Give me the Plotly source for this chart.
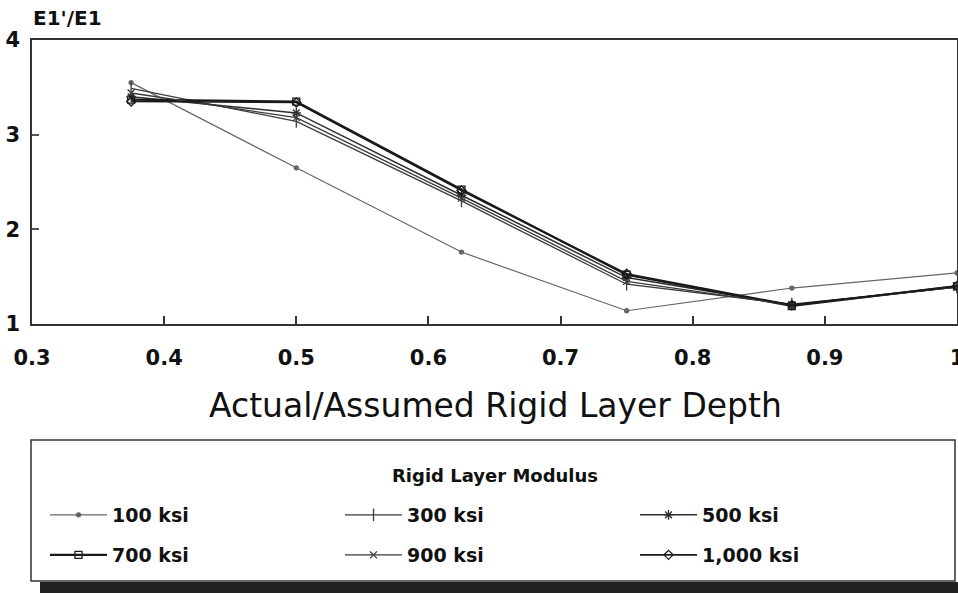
import plotly.graph_objects as go

# ---- data ----
depth_ratio = [0.375, 0.5, 0.625, 0.75, 0.875, 1.0]
series_names = ["100 ksi", "300 ksi", "500 ksi", "700 ksi", "900 ksi", "1,000 ksi"]
e_100 = [3.55, 2.65, 1.76, 1.14, 1.38, 1.54]
e_300 = [3.49, 3.14, 2.30, 1.42, 1.21, 1.39]
e_500 = [3.40, 3.23, 2.36, 1.49, 1.20, 1.39]
e_700 = [3.37, 3.35, 2.42, 1.52, 1.19, 1.40]
e_900 = [3.44, 3.18, 2.33, 1.45, 1.20, 1.39]
e_1000 = [3.35, 3.34, 2.41, 1.53, 1.20, 1.40]
x_ticks = [0.3, 0.4, 0.5, 0.6, 0.7, 0.8, 0.9, 1.0]
x_tick_labels = ["0.3", "0.4", "0.5", "0.6", "0.7", "0.8", "0.9", "1"]
y_ticks = [1, 2, 3, 4]

W, H = 958, 593
ML, MR, MT, MB = 32, 1, 40, 0
PW, PH = W - ML - MR, H - MT - MB


def px_x(p):
    return (p - ML) / PW


def px_y(p):
    return (H - MB - p) / PH


FONT = "DejaVu Sans"
styles = [
    dict(color="#666666", width=1.2, symbol="circle", size=4, legend="legend"),
    dict(color="#3a3a3a", width=1.3, symbol="line-ns-open", size=9, legend="legend"),
    dict(color="#2e2e2e", width=1.5, symbol="asterisk-open", size=8, legend="legend"),
    dict(color="#1a1a1a", width=2.2, symbol="square-open", size=7, legend="legend2"),
    dict(color="#3a3a3a", width=1.3, symbol="x-thin-open", size=7, legend="legend2"),
    dict(color="#1a1a1a", width=1.6, symbol="diamond-open", size=7, legend="legend2"),
]
all_series = [e_100, e_300, e_500, e_700, e_900, e_1000]

fig = go.Figure()
for name, vals, st in zip(series_names, all_series, styles):
    fig.add_trace(go.Scatter(
        x=depth_ratio, y=vals, name=name, mode="lines+markers",
        line=dict(color=st["color"], width=st["width"]),
        marker=dict(symbol=st["symbol"], size=st["size"], color=st["color"],
                    line=dict(color=st["color"], width=1.3)),
        legend=st["legend"], cliponaxis=False,
    ))

legend_common = dict(orientation="h", xanchor="left", yanchor="middle",
                     entrywidth=223, entrywidthmode="pixels", itemwidth=57,
                     bgcolor="rgba(0,0,0,0)", borderwidth=0,
                     font=dict(family=FONT, size=19, color="#111", weight="bold"))

fig.update_layout(
    width=W, height=H,
    margin=dict(l=ML, r=MR, t=MT, b=MB, autoexpand=False),
    paper_bgcolor="white", plot_bgcolor="white",
    font=dict(family=FONT, color="#111111"),
    xaxis=dict(range=[0.3, 1.0], tickvals=x_ticks, ticktext=x_tick_labels,
               ticks="inside", ticklen=8, tickwidth=1.5, tickcolor="#333",
               showline=True, linecolor="#333", linewidth=1.5, mirror=True,
               showgrid=False, zeroline=False, ticklabelstandoff=14,
               ticklabeloverflow="allow",
               tickfont=dict(family=FONT, size=21, color="#111", weight="bold")),
    yaxis=dict(range=[1, 4], tickvals=y_ticks, domain=[px_y(324), 1],
               ticks="inside", ticklen=7, tickwidth=1.5, tickcolor="#555",
               showline=True, linecolor="#333", linewidth=1.5, mirror=True,
               showgrid=False, zeroline=False, ticklabelstandoff=6,
               ticklabeloverflow="allow",
               tickfont=dict(family=FONT, size=21, color="#111", weight="bold")),
    legend=dict(x=px_x(45), y=px_y(515), **legend_common),
    legend2=dict(x=px_x(45), y=px_y(555), **legend_common),
    showlegend=True,
)

# legend frame with shadow
fig.add_shape(type="rect", xref="paper", yref="paper",
              x0=px_x(40), x1=px_x(962), y0=px_y(596), y1=px_y(582),
              fillcolor="#222222", line=dict(width=0), layer="below")
fig.add_shape(type="rect", xref="paper", yref="paper",
              x0=px_x(31), x1=px_x(955), y0=px_y(581), y1=px_y(440),
              fillcolor="white", line=dict(color="#333", width=1.5), layer="below")

fig.add_annotation(text="Rigid Layer Modulus", xref="paper", yref="paper",
                   x=px_x(495), y=px_y(475), showarrow=False,
                   xanchor="center", yanchor="middle",
                   font=dict(family=FONT, size=18, color="#111", weight="bold"))
fig.add_annotation(text="Actual/Assumed Rigid Layer Depth", xref="paper", yref="paper",
                   x=px_x(495), y=px_y(405), showarrow=False,
                   xanchor="center", yanchor="middle",
                   font=dict(family=FONT, size=33, color="#111"))
fig.add_annotation(text="E1'/E1", xref="paper", yref="paper",
                   x=px_x(31), y=px_y(18), showarrow=False,
                   xanchor="left", yanchor="middle",
                   font=dict(family=FONT, size=20, color="#111", weight="bold"))

fig.write_html("out.html")
